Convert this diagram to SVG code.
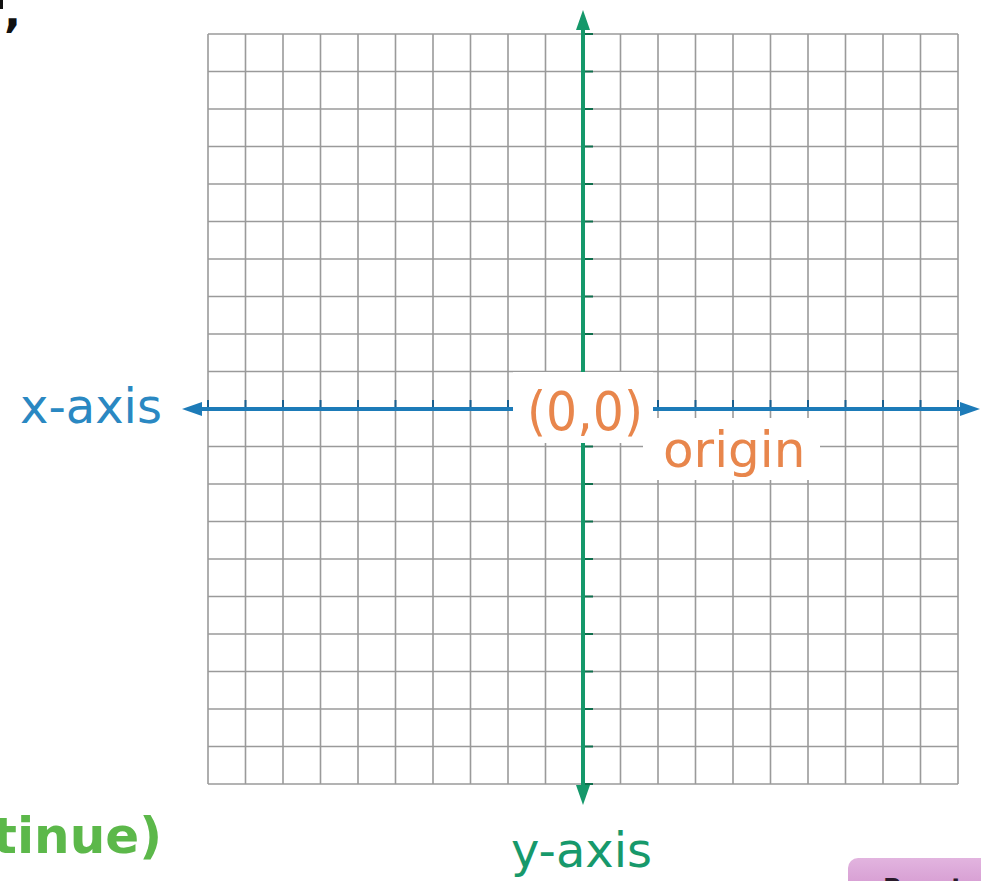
<svg xmlns="http://www.w3.org/2000/svg" width="981" height="881" viewBox="0 0 981 881">
  <style>
    .grid line { stroke: #9a9a9a; stroke-width: 1.6; }
    .xtick { stroke: #1a5f8f; stroke-width: 2; }
    .ytick { stroke: #0f6e4c; stroke-width: 2; }
    .lbl { font-family: "DejaVu Sans", "Liberation Sans", sans-serif; }
    .mask { fill: #ffffff; }
  </style>
  <defs>
    <marker id="arrBlue" viewBox="0 0 20 14" refX="0" refY="7" markerWidth="20" markerHeight="14" markerUnits="userSpaceOnUse" orient="auto-start-reverse">
      <path d="M0,0 L20,7 L0,14 z" fill="#1d7bb8"/>
    </marker>
    <marker id="arrGreen" viewBox="0 0 20 14" refX="0" refY="7" markerWidth="20" markerHeight="14" markerUnits="userSpaceOnUse" orient="auto-start-reverse">
      <path d="M0,0 L20,7 L0,14 z" fill="#15986a"/>
    </marker>
    <linearGradient id="btn" x1="0" y1="0" x2="0" y2="1">
      <stop offset="0" stop-color="#e2b4df"/>
      <stop offset="1" stop-color="#cf8fcb"/>
    </linearGradient>
  </defs>

  <rect width="981" height="881" fill="#ffffff"/>

  <g id="grid" class="grid">
    <line x1="208" y1="34" x2="208" y2="784"/>
    <line x1="245.5" y1="34" x2="245.5" y2="784"/>
    <line x1="283" y1="34" x2="283" y2="784"/>
    <line x1="320.5" y1="34" x2="320.5" y2="784"/>
    <line x1="358" y1="34" x2="358" y2="784"/>
    <line x1="395.5" y1="34" x2="395.5" y2="784"/>
    <line x1="433" y1="34" x2="433" y2="784"/>
    <line x1="470.5" y1="34" x2="470.5" y2="784"/>
    <line x1="508" y1="34" x2="508" y2="784"/>
    <line x1="545.5" y1="34" x2="545.5" y2="784"/>
    <line x1="583" y1="34" x2="583" y2="784"/>
    <line x1="620.5" y1="34" x2="620.5" y2="784"/>
    <line x1="658" y1="34" x2="658" y2="784"/>
    <line x1="695.5" y1="34" x2="695.5" y2="784"/>
    <line x1="733" y1="34" x2="733" y2="784"/>
    <line x1="770.5" y1="34" x2="770.5" y2="784"/>
    <line x1="808" y1="34" x2="808" y2="784"/>
    <line x1="845.5" y1="34" x2="845.5" y2="784"/>
    <line x1="883" y1="34" x2="883" y2="784"/>
    <line x1="920.5" y1="34" x2="920.5" y2="784"/>
    <line x1="958" y1="34" x2="958" y2="784"/>

    <line x1="208" y1="34" x2="958" y2="34"/>
    <line x1="208" y1="71.5" x2="958" y2="71.5"/>
    <line x1="208" y1="109" x2="958" y2="109"/>
    <line x1="208" y1="146.5" x2="958" y2="146.5"/>
    <line x1="208" y1="184" x2="958" y2="184"/>
    <line x1="208" y1="221.5" x2="958" y2="221.5"/>
    <line x1="208" y1="259" x2="958" y2="259"/>
    <line x1="208" y1="296.5" x2="958" y2="296.5"/>
    <line x1="208" y1="334" x2="958" y2="334"/>
    <line x1="208" y1="371.5" x2="958" y2="371.5"/>
    <line x1="208" y1="409" x2="958" y2="409"/>
    <line x1="208" y1="446.5" x2="958" y2="446.5"/>
    <line x1="208" y1="484" x2="958" y2="484"/>
    <line x1="208" y1="521.5" x2="958" y2="521.5"/>
    <line x1="208" y1="559" x2="958" y2="559"/>
    <line x1="208" y1="596.5" x2="958" y2="596.5"/>
    <line x1="208" y1="634" x2="958" y2="634"/>
    <line x1="208" y1="671.5" x2="958" y2="671.5"/>
    <line x1="208" y1="709" x2="958" y2="709"/>
    <line x1="208" y1="746.5" x2="958" y2="746.5"/>
    <line x1="208" y1="784" x2="958" y2="784"/>
  </g>

  <g id="ticks">
    <g class="xtick">
      <line x1="208" y1="400" x2="208" y2="409"/>
      <line x1="245.5" y1="400" x2="245.5" y2="409"/>
      <line x1="283" y1="400" x2="283" y2="409"/>
      <line x1="320.5" y1="400" x2="320.5" y2="409"/>
      <line x1="358" y1="400" x2="358" y2="409"/>
      <line x1="395.5" y1="400" x2="395.5" y2="409"/>
      <line x1="433" y1="400" x2="433" y2="409"/>
      <line x1="470.5" y1="400" x2="470.5" y2="409"/>
      <line x1="508" y1="400" x2="508" y2="409"/>
      <line x1="658" y1="400" x2="658" y2="409"/>
      <line x1="695.5" y1="400" x2="695.5" y2="409"/>
      <line x1="733" y1="400" x2="733" y2="409"/>
      <line x1="770.5" y1="400" x2="770.5" y2="409"/>
      <line x1="808" y1="400" x2="808" y2="409"/>
      <line x1="845.5" y1="400" x2="845.5" y2="409"/>
      <line x1="883" y1="400" x2="883" y2="409"/>
      <line x1="920.5" y1="400" x2="920.5" y2="409"/>
      <line x1="958" y1="400" x2="958" y2="409"/>
    </g>
    <g class="ytick">
      <line x1="583" y1="34" x2="593" y2="34"/>
      <line x1="583" y1="71.5" x2="593" y2="71.5"/>
      <line x1="583" y1="109" x2="593" y2="109"/>
      <line x1="583" y1="146.5" x2="593" y2="146.5"/>
      <line x1="583" y1="184" x2="593" y2="184"/>
      <line x1="583" y1="221.5" x2="593" y2="221.5"/>
      <line x1="583" y1="259" x2="593" y2="259"/>
      <line x1="583" y1="296.5" x2="593" y2="296.5"/>
      <line x1="583" y1="334" x2="593" y2="334"/>
      <line x1="583" y1="446.5" x2="593" y2="446.5"/>
      <line x1="583" y1="484" x2="593" y2="484"/>
      <line x1="583" y1="521.5" x2="593" y2="521.5"/>
      <line x1="583" y1="559" x2="593" y2="559"/>
      <line x1="583" y1="596.5" x2="593" y2="596.5"/>
      <line x1="583" y1="634" x2="593" y2="634"/>
      <line x1="583" y1="671.5" x2="593" y2="671.5"/>
      <line x1="583" y1="709" x2="593" y2="709"/>
      <line x1="583" y1="746.5" x2="593" y2="746.5"/>
      <line x1="583" y1="784" x2="593" y2="784"/>
    </g>
  </g>

  <g id="connectors">
    <line id="x-axis-line" x1="202" y1="409" x2="960" y2="409" stroke="#1d7bb8" stroke-width="4" marker-start="url(#arrBlue)" marker-end="url(#arrBlue)"/>
    <line id="y-axis-line" x1="583" y1="30" x2="583" y2="785" stroke="#15986a" stroke-width="4" marker-start="url(#arrGreen)" marker-end="url(#arrGreen)"/>
  </g>

  <g id="origin-point">
    <rect class="mask" x="513" y="372" width="140" height="71"/>
    <text class="lbl" x="527" y="430" font-size="54" fill="#e8864c" textLength="116" lengthAdjust="spacingAndGlyphs">(0,0)</text>
  </g>

  <g id="origin-label">
    <rect class="mask" x="643" y="418" width="177" height="62"/>
    <text class="lbl" x="663" y="467" font-size="50" fill="#e8864c">origin</text>
  </g>

  <g id="x-axis-label">
    <text class="lbl" x="20" y="423" font-size="48" fill="#2a88c2">x-axis</text>
  </g>

  <g id="y-axis-label">
    <text class="lbl" x="511" y="867" font-size="48" fill="#17996b">y-axis</text>
  </g>

  <g id="continue-label">
    <text class="lbl" x="162" y="853" font-size="50" font-weight="bold" fill="#5cb84a" text-anchor="end">tinue)</text>
  </g>

  <g id="top-left-fragment">
    <rect x="0" y="0" width="3" height="9" fill="#111111"/>
    <text class="lbl" x="4" y="27" font-size="45" font-weight="bold" fill="#111111">,</text>
  </g>

  <g id="reset-button">
    <rect x="848" y="858" width="150" height="45" rx="10" fill="url(#btn)"/>
    <text class="lbl" x="883" y="896" font-size="25" font-weight="bold" fill="#2a1a2a">Reset</text>
  </g>
</svg>
